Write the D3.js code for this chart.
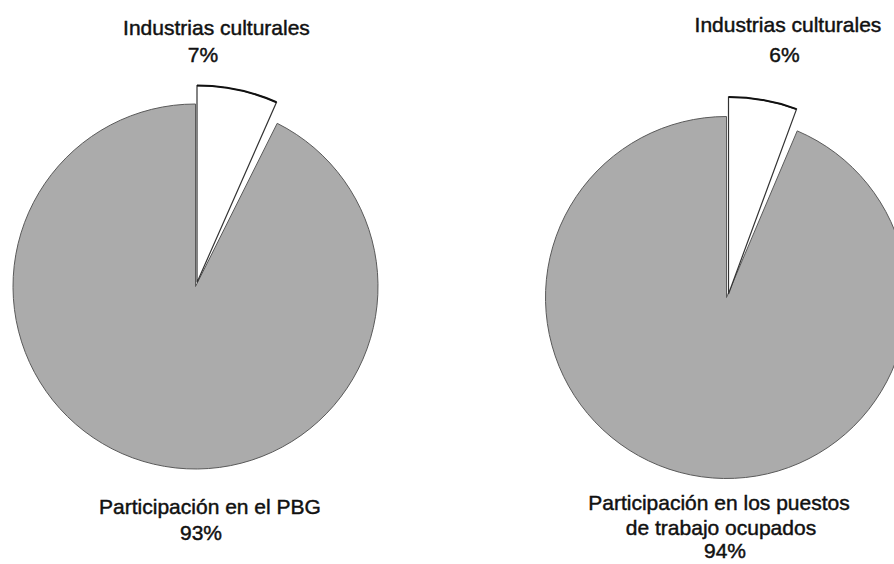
<!DOCTYPE html>
<html>
<head>
<meta charset="utf-8">
<script src="https://cdn.jsdelivr.net/npm/d3@7"></script>
<style>
  html, body { margin: 0; padding: 0; background: #fff; }
  svg { display: block; }
  text { font-family: "Liberation Sans", Arial, sans-serif; font-size: 21px; fill: #111; stroke: #111; stroke-width: 0.45px; }
</style>
</head>
<body>
<svg id="chart" width="894" height="564"></svg>
<script>
// Data
const categories = ["Industrias culturales", "Resto"];
const valuesPBG = [7, 93];
const valuesEmpleo = [6, 94];
const topLabels = ["Industrias culturales", "Industrias culturales"];
const topPct = ["7%", "6%"];
const bottomLabelsPBG = ["Participación en el PBG", "93%"];
const bottomLabelsEmpleo = ["Participación en los puestos", "de trabajo ocupados", "94%"];

const svg = d3.select("#chart");

const pie = d3.pie().sort(null).value(d => d).startAngle(0).endAngle(2 * Math.PI);
const gapHalf = 1.4 * Math.PI / 180;

function drawPie(values, cx, cy, r, rWhite, off) {
  const arcs = pie(values);
  const g = svg.append("g").attr("transform", `translate(${cx},${cy})`);
  // main (grey) slice
  const grey = arcs[1];
  g.append("path")
    .attr("d", d3.arc().innerRadius(0).outerRadius(r)
      .startAngle(grey.startAngle + gapHalf).endAngle(grey.endAngle)())
    .attr("fill", "#ababab")
    .attr("stroke", "#5a5a5a")
    .attr("stroke-width", 1);
  // exploded white slice
  const w = arcs[0];
  const wg = g.append("g").attr("transform", `translate(${off[0]},${off[1]})`);
  const a0 = w.startAngle, a1 = w.endAngle - gapHalf;
  wg.append("path")
    .attr("d", d3.arc().innerRadius(0).outerRadius(rWhite).startAngle(a0).endAngle(a1)())
    .attr("fill", "#ffffff")
    .attr("stroke", "#333")
    .attr("stroke-width", 1.2);
  // darker outer rim
  wg.append("path")
    .attr("d", d3.arc().innerRadius(rWhite).outerRadius(rWhite).startAngle(a0).endAngle(a1)())
    .attr("fill", "none")
    .attr("stroke", "#111")
    .attr("stroke-width", 2);
}

drawPie(valuesPBG, 195.5, 286.5, 182.5, 197, [1.5, -4]);
drawPie(valuesEmpleo, 726.5, 297.5, 181, 197, [2, -3.5]);

// Labels
function label(txt, x, y) {
  svg.append("text").attr("x", x).attr("y", y).attr("text-anchor", "middle").text(txt);
}
label(topLabels[0], 216.5, 35);
label(topPct[0], 203, 61.5);
label(topLabels[1], 788, 31.5);
label(topPct[1], 784.5, 61.5);

label(bottomLabelsPBG[0], 210, 514);
label(bottomLabelsPBG[1], 201, 540);

label(bottomLabelsEmpleo[0], 719, 510);
label(bottomLabelsEmpleo[1], 721, 535);
label(bottomLabelsEmpleo[2], 725, 558);
</script>
</body>
</html>
